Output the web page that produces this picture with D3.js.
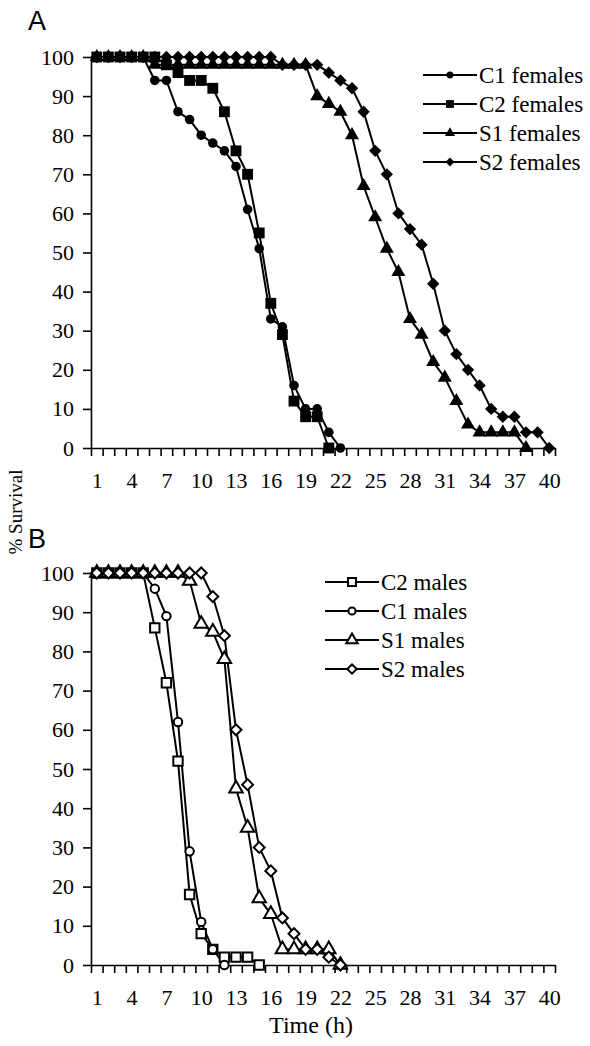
<!DOCTYPE html>
<html>
<head>
<meta charset="utf-8">
<script src="https://cdn.jsdelivr.net/npm/d3@7"></script>
<style>
body { margin: 0; background: #fff; }
text { font-family: "Times New Roman", "Liberation Serif", serif; fill: #000; }
</style>
</head>
<body>
<script>
// hours on the x axis and the labelled ones
var hour_labels = [1, 4, 7, 10, 13, 16, 19, 22, 25, 28, 31, 34, 37, 40]
var survival_ticks = [0, 10, 20, 30, 40, 50, 60, 70, 80, 90, 100]

// % survival, one value per hour starting at hour 1
var c1_females = [100,100,100,100,100,94,94,86,84,80,78,76,72,61,51,33,31,16,10,10,4,0]
var c2_females = [100,100,100,100,100,100,98,96,94,94,92,86,76,70,55,37,29,12,8,8,0]
var s1_females = [100,100,100,100,100,98,98,98,98,98,98,98,98,98,98,98,98,98,98,90,88,86,80,67,59,51,45,33,29,22,18,12,6,4,4,4,4,0]
var s2_females = [100,100,100,100,100,100,100,100,100,100,100,100,100,100,100,100,98,98,98,98,96,94,92,86,76,70,60,56,52,42,30,24,20,16,10,8,8,4,4,0]

var c2_males = [100,100,100,100,100,86,72,52,18,8,4,2,2,2,0]
var c1_males = [100,100,100,100,100,96,89,62,29,11,4,0]
var s1_males = [100,100,100,100,100,100,100,100,98,87,85,78,45,35,17,13,4,4,4,4,4,0]
var s2_males = [100,100,100,100,100,100,100,100,100,100,94,84,60,46,30,24,12,8,4,4,2,0]

var panel_a = [
	{name: 'C1 females', vals: c1_females, shape: 'circle'},
	{name: 'C2 females', vals: c2_females, shape: 'square'},
	{name: 'S1 females', vals: s1_females, shape: 'triangle'},
	{name: 'S2 females', vals: s2_females, shape: 'diamond'}
]
var panel_b = [
	{name: 'C2 males', vals: c2_males, shape: 'square'},
	{name: 'C1 males', vals: c1_males, shape: 'circle'},
	{name: 'S1 males', vals: s1_males, shape: 'triangle'},
	{name: 'S2 males', vals: s2_males, shape: 'diamond'}
]

var svg = d3.select('body').append('svg').attr('width', 590).attr('height', 1046)

var left = 91, right = 555
var x = d3.scaleLinear().domain([0.5, 40.5]).range([left, right])

function marker(shape, k) {
	// k scales the symbol (legend uses smaller ones)
	if (shape == 'circle') return d3.symbol(d3.symbolCircle, 72 * k * k)()
	if (shape == 'square') return d3.symbol(d3.symbolSquare, 118 * k * k)()
	if (shape == 'triangle') return d3.symbol(d3.symbolTriangle, 85 * k * k)()
	return d3.symbol(d3.symbolSquare, 76 * k * k)()
}
function marker_open(shape, k) {
	if (shape == 'circle') return d3.symbol(d3.symbolCircle, 56 * k * k)()
	if (shape == 'square') return d3.symbol(d3.symbolSquare, 88 * k * k)()
	if (shape == 'triangle') return d3.symbol(d3.symbolTriangle, 78 * k * k)()
	return d3.symbol(d3.symbolSquare, 60 * k * k)()
}

function draw_panel(series, top, bottom, open, leg_x, leg_y, letter, letter_y) {
	var y = d3.scaleLinear().domain([0, 100]).range([bottom, top])
	var g = svg.append('g')

	g.append('text').attr('x', 28).attr('y', letter_y).text(letter)
		.style('font-family', '"Liberation Sans", Arial, sans-serif').style('font-size', '27px')

	var ya = g.append('g').attr('transform', 'translate(' + left + ',0)')
		.call(d3.axisLeft(y).tickValues(survival_ticks).tickSize(8).tickSizeOuter(0).tickPadding(9))
	var xa = g.append('g').attr('transform', 'translate(0,' + bottom + ')')
		.call(d3.axisBottom(x).tickValues(d3.range(0.5, 41, 1)).tickSize(8).tickSizeOuter(0).tickFormat(''))
	var xl = g.append('g').attr('transform', 'translate(0,' + bottom + ')')
		.call(d3.axisBottom(x).tickValues(hour_labels).tickSize(0).tickPadding(24))
	xl.select('.domain').remove()
	g.selectAll('.tick line, .domain').attr('stroke', '#000').attr('stroke-width', 1.6)
	g.selectAll('.tick text').style('font-family', '"Times New Roman", "Liberation Serif", serif').style('font-size', '22px')

	var line = d3.line().x((d, i) => x(i + 1)).y(d => y(d))

	series.forEach(s => {
		g.append('path').datum(s.vals)
			.attr('d', line).attr('fill', 'none').attr('stroke', '#000').attr('stroke-width', 2)
	})
	series.forEach(s => {
		g.selectAll('.m_' + s.shape).data(s.vals).enter().append('path')
			.attr('class', 'm_' + s.shape)
			.attr('d', open ? marker_open(s.shape, 1) : marker(s.shape, 1))
			.attr('transform', (d, i) => 'translate(' + x(i + 1) + ',' + y(d) + ')' + (s.shape == 'diamond' ? ' rotate(45)' : ''))
			.attr('fill', open ? '#fff' : '#000')
			.attr('stroke', '#000').attr('stroke-width', open ? 2 : 0)
	})

	// legend
	series.forEach((s, i) => {
		var ly = leg_y + i * 29
		var lg = g.append('g').attr('transform', 'translate(' + leg_x + ',' + ly + ')')
		lg.append('line').attr('x1', 0).attr('x2', 54).attr('stroke', '#000').attr('stroke-width', 2)
		lg.append('path')
			.attr('d', open ? marker_open(s.shape, 0.85) : marker(s.shape, 0.72))
			.attr('transform', 'translate(27,0)' + (s.shape == 'diamond' ? ' rotate(45)' : ''))
			.attr('fill', open ? '#fff' : '#000')
			.attr('stroke', '#000').attr('stroke-width', open ? 2 : 0)
		lg.append('text').attr('x', 56).attr('dy', '0.33em').text(s.name).style('font-size', '23px')
	})
}

draw_panel(panel_a, 57, 448, false, 423, 75, 'A', 30)
draw_panel(panel_b, 573, 965, true, 325, 582, 'B', 548)

svg.append('text').attr('transform', 'translate(22,512) rotate(-90)')
	.attr('text-anchor', 'middle').style('font-size', '19px').text('% Survival')
svg.append('text').attr('x', 311).attr('y', 1033)
	.attr('text-anchor', 'middle').style('font-size', '24px').text('Time (h)')
</script>
</body>
</html>
